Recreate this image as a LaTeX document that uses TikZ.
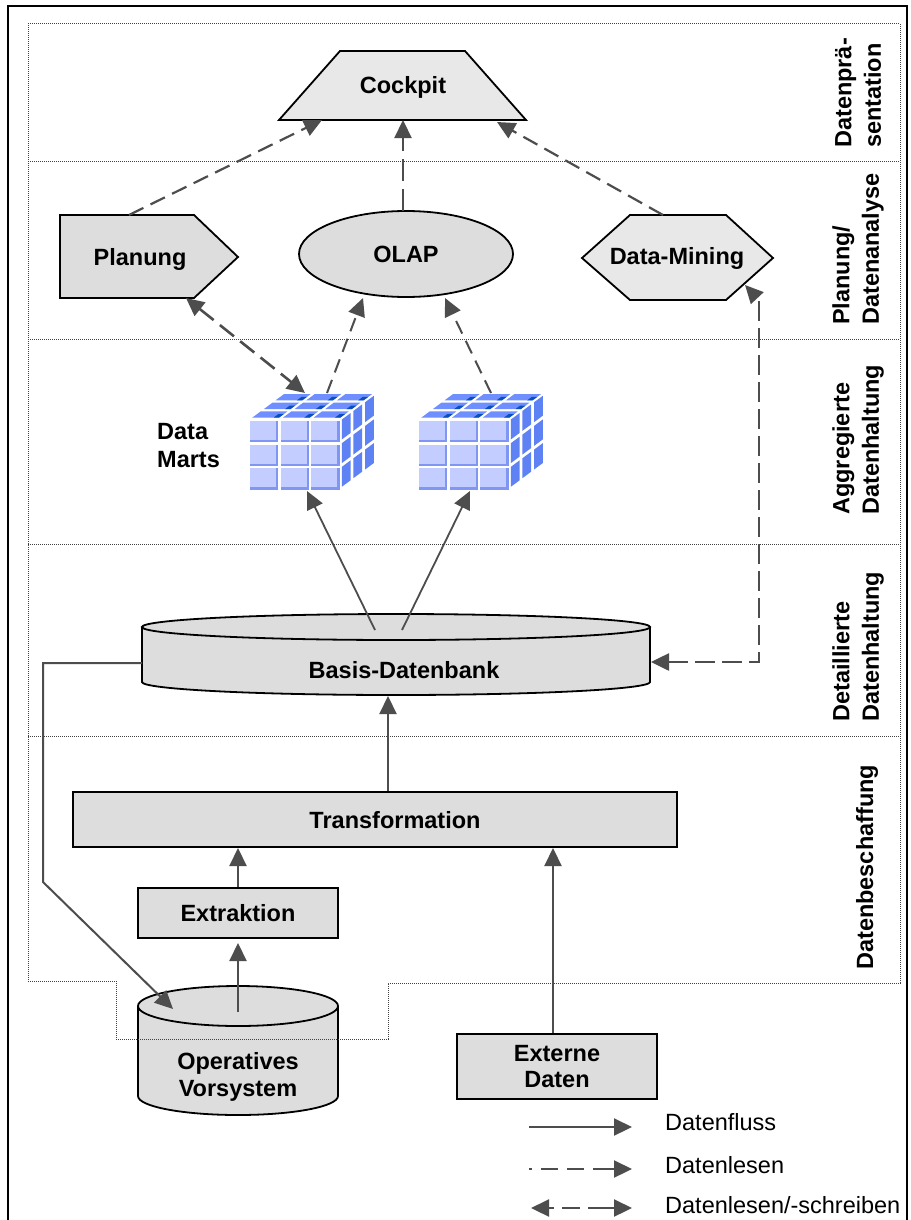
\documentclass[tikz,border=0pt]{standalone}
\usepackage{fontspec}
\setmainfont{Liberation Sans}
\usetikzlibrary{arrows.meta,calc,shapes.geometric}

\definecolor{linegray}{HTML}{4D4D4D}
\definecolor{boxgray}{HTML}{DDDDDD}
\definecolor{lightbox}{HTML}{E8E8E8}
\definecolor{cubefront}{HTML}{C3CDFF}
\definecolor{cubebevel}{HTML}{7F96F2}
\definecolor{cubetop}{HTML}{6F8EFF}
\definecolor{cubedark}{HTML}{0850C0}
\definecolor{cubeside}{HTML}{5E81F3}

\tikzset{
  >={Triangle[length=18pt,width=17pt]},
  every node/.style={font=\bfseries\fontsize{23.5}{26.5}\selectfont},
  txt/.style={inner sep=0pt, align=center},
  box/.style={draw=black, line width=2pt, fill=boxgray, inner sep=0pt},
  outline/.style={draw=black, line width=1.8pt},
  flow/.style={draw=linegray, line width=2.2pt, ->},
  readarrow/.style={draw=linegray, line width=2.2pt, ->, dash pattern=on 16pt off 8pt},
  rwarrow/.style={draw=linegray, line width=2.6pt, <->, dash pattern=on 18pt off 8pt},
  layer/.style={draw=black!75, line width=1pt, dash pattern=on 1pt off 1pt},
  sidelabel/.style={rotate=90, anchor=west, align=left, inner sep=0pt,
    font=\bfseries\fontsize{23.5}{29.5}\selectfont},
  legendtext/.style={anchor=base west, inner sep=0pt, font=\fontsize{23.5}{27}\selectfont},
}

% a 3x3x3 block cube; #1,#2 = top left corner of the front face
\newcommand{\datacube}[2]{%
\begin{scope}[shift={(#1,#2)}]
  % front face
  \foreach \i in {0,1,2}{
    \foreach \j in {0,1,2}{
      \fill[white] (\i*30.67,\j*23.67) rectangle ++(30.67,23.67);
      \fill[cubebevel] (\i*30.67+2,\j*23.67+2) rectangle (\i*30.67+30.17,\j*23.67+23.17);
      \fill[cubefront] (\i*30.67+2,\j*23.67+2) rectangle (\i*30.67+28,\j*23.67+21);
    }}
  % top face
  \foreach \i in {0,1,2}{
    \foreach \k in {0,1,2}{
      \begin{scope}[shift={(\i*30.67+\k*11.67,-\k*8.67)}]
        \fill[white] (0,0) -- (30.67,0) -- (42.34,-8.67) -- (11.67,-8.67) -- cycle;
        \fill[cubetop] (4.2,-1.3) -- (30.9,-1.3) -- (39.4,-7.6) -- (12.7,-7.6) -- cycle;
        \fill[cubedark] (25.5,-1.3) -- (30.9,-1.3) -- (35.6,-4.8) -- (30.2,-4.8) -- cycle;
      \end{scope}
    }}
  % side face
  \foreach \k in {0,1,2}{
    \foreach \j in {0,1,2}{
      \begin{scope}[shift={(92+\k*11.67,\j*23.67-\k*8.67)}]
        \fill[white] (0,0) -- (11.67,-8.67) -- (11.67,15) -- (0,23.67) -- cycle;
        \fill[cubeside] (1.75,0.6) -- (10.5,-5.9) -- (10.5,14) -- (1.75,20.5) -- cycle;
      \end{scope}
    }}
\end{scope}}

\begin{document}
\begin{tikzpicture}[x=1pt,y=-1pt]
\useasboundingbox (0,0) rectangle (910,1220);
\fill[white] (0,0) rectangle (910,1220);

% outer frame
\draw[black, line width=1.5pt] (8,6) rectangle (907,1240);

% ---- presentation / analysis shapes
\draw[outline, fill=lightbox] (340,51) -- (465,51) -- (526,120) -- (279,120) -- cycle;
\node[txt] (cockpit) at (403,87) {Cockpit};

\draw[outline, fill=boxgray] (60,215) -- (194,215) -- (238,257) -- (194,298) -- (60,298) -- cycle;
\node[txt] (planung) at (140,259) {Planung};

\node[ellipse, draw=black, line width=1.8pt, fill=boxgray, minimum width=214pt,
      minimum height=86pt, inner sep=0pt] (olap) at (406,254) {OLAP};

\draw[outline, fill=lightbox] (582,258) -- (630,215) -- (726,215) -- (773,258) -- (726,300) -- (630,300) -- cycle;
\node[txt] (datamining) at (677,258) {Data-Mining};

% ---- data marts
\datacube{248}{419}
\datacube{417}{419}
\node[inner sep=0pt, minimum width=127pt, minimum height=97pt] (cube1) at (311.5,441.5) {};
\node[inner sep=0pt, minimum width=127pt, minimum height=97pt] (cube2) at (480,441.5) {};
\node[txt, align=left, anchor=west, font=\bfseries\fontsize{23.5}{28}\selectfont] (datamarts) at (157,446) {Data\\Marts};

% ---- basis database (cylinder)
\fill[boxgray] (142,627) -- (142,682) .. controls (142,689.2) and (255.7,695) .. (396,695)
  .. controls (536.3,695) and (650,689.2) .. (650,682) -- (650,627) -- cycle;
\draw[outline] (142,627) -- (142,682) .. controls (142,689.2) and (255.7,695) .. (396,695)
  .. controls (536.3,695) and (650,689.2) .. (650,682) -- (650,627);
\draw[outline, fill=boxgray] (396,627) ellipse [x radius=254pt, y radius=13pt];
\node[txt] (basis) at (404,670) {Basis-Datenbank};

% ---- acquisition
\node[box, minimum width=604pt, minimum height=55pt] (transformation) at (375,819.5) {};
\node[txt] (transformationtext) at (395,820) {Transformation};
\node[box, minimum width=200pt, minimum height=50pt] (extraktion) at (238,913) {Extraktion};
\node[box, minimum width=200pt, minimum height=65pt, align=center] (externe) at (557,1066.5) {Externe\\Daten};

% operational source system (cylinder)
\fill[boxgray] (138,1006) -- (138,1096) .. controls (138,1106.5) and (182.8,1115) .. (238,1115)
  .. controls (293.2,1115) and (338,1106.5) .. (338,1096) -- (338,1006) -- cycle;
\draw[outline] (138,1006) -- (138,1096) .. controls (138,1106.5) and (182.8,1115) .. (238,1115)
  .. controls (293.2,1115) and (338,1106.5) .. (338,1096) -- (338,1006);
\draw[outline, fill=boxgray] (238,1006) ellipse [x radius=100pt, y radius=20pt];
\node[txt] (operatives) at (238,1077) {Operatives\\Vorsystem};

% ---- layers
\draw[layer] (28,24) -- (900,24) -- (900,983) -- (388,983) -- (388,1039) -- (116,1039)
  -- (116,981) -- (28,981) -- cycle;
\foreach \yy in {161,339,544,736}{\draw[layer] (28,\yy) -- (900,\yy);}

\node[sidelabel] (lab1) at (858,148) {Datenprä-\\sentation};
\node[sidelabel] (lab2) at (858,325) {Planung/\\Datenanalyse};
\node[sidelabel] (lab3) at (858,515) {Aggregierte\\Datenhaltung};
\node[sidelabel] (lab4) at (858,722) {Detaillierte\\Datenhaltung};
\node[sidelabel] (lab5) at (867,970) {Datenbeschaffung};

% ---- connectors
\draw[readarrow] ($(planung)+(-11,-44)$) -- ($(cockpit)+(-81,33)$);
\draw[readarrow, dash pattern=on 22pt off 8pt] ($(olap)+(-3,-43)$) -- ($(cockpit)+(0,33)$);
\draw[readarrow] ($(datamining)+(-14,-43)$) -- ($(cockpit)+(94,35)$);

\draw[rwarrow] ($(planung)+(46,39)$) -- ($(cube1)+(-6.5,-48.5)$);
\draw[readarrow, line width=2pt, dash pattern=on 14pt off 8pt] ($(cube1)+(15.5,-48.5)$) -- ($(olap)+(-43,44)$);
\draw[readarrow, line width=2pt, dash pattern=on 14pt off 8pt] ($(cube2)+(11,-48.5)$) -- ($(olap)+(39,44)$);

\draw[flow, line width=1.8pt] ($(basis)+(-29,-40)$) -- ($(cube1)+(-4.5,49.5)$);
\draw[flow, line width=1.8pt] ($(basis)+(-2,-40)$) -- ($(cube2)+(-10,49.5)$);

\draw[rwarrow, dash pattern=on 20pt off 7pt] ($(basis)+(247,-8)$) -- ($(basis)+(355,-8)$)
  -- ($(datamining)+(82,42)$) -- ($(datamining)+(68,27)$);

\draw[flow] ($(transformation.north)+(13,0)$) -- ($(basis)+(-16,26)$);
\draw[flow] (extraktion.north) -- ($(transformation.south)+(-137,0)$);
\draw[flow] ($(operatives)+(0,-65)$) -- ($(extraktion.south)+(0,4)$);
\draw[flow] ($(externe.north)+(-4,0)$) -- ($(transformation.south)+(178,0)$);

\draw[flow, line width=2pt] ($(basis)+(-262,-7)$) -- ($(basis)+(-361,-7)$)
  -- ($(basis)+(-361,212)$) -- ($(operatives)+(-65,-68)$);

% ---- legend
\coordinate (lg1a) at (529,1127); \coordinate (lg1b) at (632,1127);
\coordinate (lg2a) at (529,1169); \coordinate (lg2b) at (632,1169);
\coordinate (lg3a) at (531,1208); \coordinate (lg3b) at (632,1208);
\draw[flow] (lg1a) -- (lg1b);
\draw[flow, dash pattern=on 3pt off 9pt on 17pt off 9pt on 17pt off 9pt on 40pt off 1pt] (lg2a) -- (lg2b);
\draw[flow, <->, dash pattern=on 6pt off 8pt on 18pt off 8pt on 40pt off 1pt] (lg3a) -- (lg3b);
\node[legendtext] (leg1) at (665,1130) {Datenfluss};
\node[legendtext] (leg2) at (665,1173) {Datenlesen};
\node[legendtext] (leg3) at (665,1213) {Datenlesen/-schreiben};
\end{tikzpicture}
\end{document}
